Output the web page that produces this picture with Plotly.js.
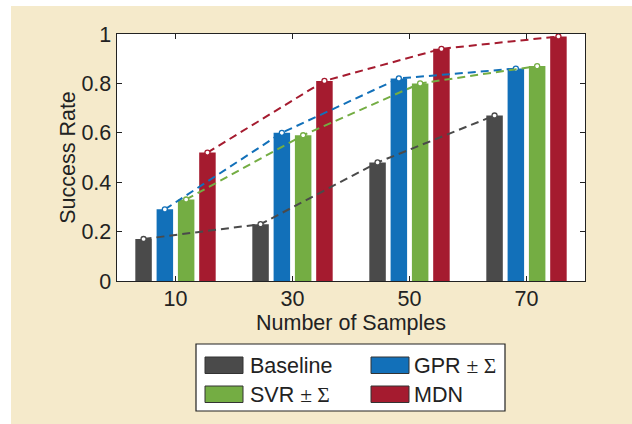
<!DOCTYPE html>
<html>
<head>
<meta charset="utf-8">
<script src="https://cdn.plot.ly/plotly-3.0.1.min.js"></script>
<style>
  html, body { margin: 0; padding: 0; background: #ffffff; }
  #bg { position: absolute; left: 11px; top: 6px; width: 621px; height: 418px; background: #f5eacb; }
  #chart { position: absolute; left: 0; top: 0; width: 632px; height: 424px; }
</style>
</head>
<body>
<div id="bg"></div>
<div id="chart"></div>
<script>
// ---- data ----
const samples = [10, 30, 50, 70];
const seriesNames = ['Baseline', 'GPR \u00b1 \u03a3', 'SVR \u00b1 \u03a3', 'MDN'];
const baseline = [0.17, 0.23, 0.48, 0.67];
const gpr      = [0.29, 0.60, 0.82, 0.86];
const svr      = [0.33, 0.59, 0.80, 0.87];
const mdn      = [0.52, 0.81, 0.94, 0.99];
const yTicks   = [0, 0.2, 0.4, 0.6, 0.8, 1];
const yTickText = ['0', '0.2', '0.4', '0.6', '0.8', '1'];

// ---- style ----
const colors  = ['#4a4a4a', '#1270b9', '#74ad43', '#a51b2f'];
const offsets = [-5.46, -1.82, 1.82, 5.46];
const barW = 2.82;
const FONT = 'Liberation Sans, Arial, sans-serif';
const SERIF = 'Liberation Serif, Times New Roman, serif';
const TXT = '#222222';
const FS = 21.5;

const series = [baseline, gpr, svr, mdn];
const traces = [];
series.forEach((vals, i) => {
  traces.push({
    type: 'bar', name: seriesNames[i],
    x: samples.map(s => s + offsets[i]), y: vals,
    width: barW, marker: { color: colors[i], line: { width: 0 } },
    showlegend: false, hoverinfo: 'y'
  });
});
series.forEach((vals, i) => {
  traces.push({
    type: 'scatter', mode: 'lines+markers', name: seriesNames[i] + ' trend',
    x: samples.map(s => s + offsets[i]), y: vals,
    line: { color: colors[i], width: 2, dash: '8px,5px' },
    marker: { symbol: 'circle', size: 5, color: '#ffffff', line: { color: colors[i], width: 1.3 } },
    showlegend: false, hoverinfo: 'y'
  });
});

// plot area in pixels
const L = 117, R = 585, T = 34, B = 281;
const px = x => (x - L) / (R - L);
const py = y => (B - y) / (B - T);

const richName = s => s.replace(/\u00b1 \u03a3/g,
  '<span style="font-family:' + SERIF + '">\u00b1 \u03a3</span>');

const shapes = [
  { type: 'rect', xref: 'paper', yref: 'paper', x0: px(196), x1: px(505), y0: py(411), y1: py(344),
    fillcolor: '#ffffff', line: { color: '#222222', width: 1.2 } }
];
const annotations = [];
const legendCells = [
  { sx: 205, ty: 357, tx: 248 },
  { sx: 371, ty: 357, tx: 412 },
  { sx: 205, ty: 386, tx: 248 },
  { sx: 371, ty: 386, tx: 412 }
];
[0, 1, 2, 3].forEach((si, k) => {
  const c = legendCells[k];
  shapes.push({ type: 'rect', xref: 'paper', yref: 'paper',
    x0: px(c.sx), x1: px(c.sx + 38), y0: py(c.ty + 16.5), y1: py(c.ty),
    fillcolor: colors[si], line: { color: '#333333', width: 1 } });
  annotations.push({ xref: 'paper', yref: 'paper', x: px(c.tx), y: py(c.ty + 8.5),
    xanchor: 'left', yanchor: 'middle', showarrow: false, text: richName(seriesNames[si]),
    font: { family: FONT, size: FS, color: TXT } });
});

const layout = {
  width: 632, height: 424,
  margin: { l: L, r: 632 - R, t: T, b: 424 - B, pad: 0 },
  paper_bgcolor: 'rgba(0,0,0,0)', plot_bgcolor: '#ffffff',
  barmode: 'overlay', showlegend: false,
  font: { family: FONT, size: FS, color: TXT },
  xaxis: {
    range: [0, 80], tickvals: samples, ticktext: samples.map(String),
    ticks: 'inside', ticklen: 5, tickwidth: 1.2, tickcolor: '#222',
    showline: true, linecolor: '#222', linewidth: 1.4, mirror: 'ticks',
    showgrid: false, zeroline: false, ticklabelstandoff: -2,
    tickfont: { family: FONT, size: FS, color: TXT },
    title: { text: 'Number of Samples', font: { family: FONT, size: FS, color: TXT }, standoff: 2 }
  },
  yaxis: {
    range: [0, 1], tickvals: yTicks, ticktext: yTickText,
    ticks: 'inside', ticklen: 5, tickwidth: 1.2, tickcolor: '#222',
    showline: true, linecolor: '#222', linewidth: 1.4, mirror: 'ticks',
    showgrid: false, zeroline: false,
    tickfont: { family: FONT, size: FS, color: TXT },
    title: { text: 'Success Rate', font: { family: FONT, size: FS, color: TXT }, standoff: 0 }
  },
  shapes: shapes,
  annotations: annotations
};

Plotly.newPlot('chart', traces, layout, { displayModeBar: false, staticPlot: true });
</script>
</body>
</html>
